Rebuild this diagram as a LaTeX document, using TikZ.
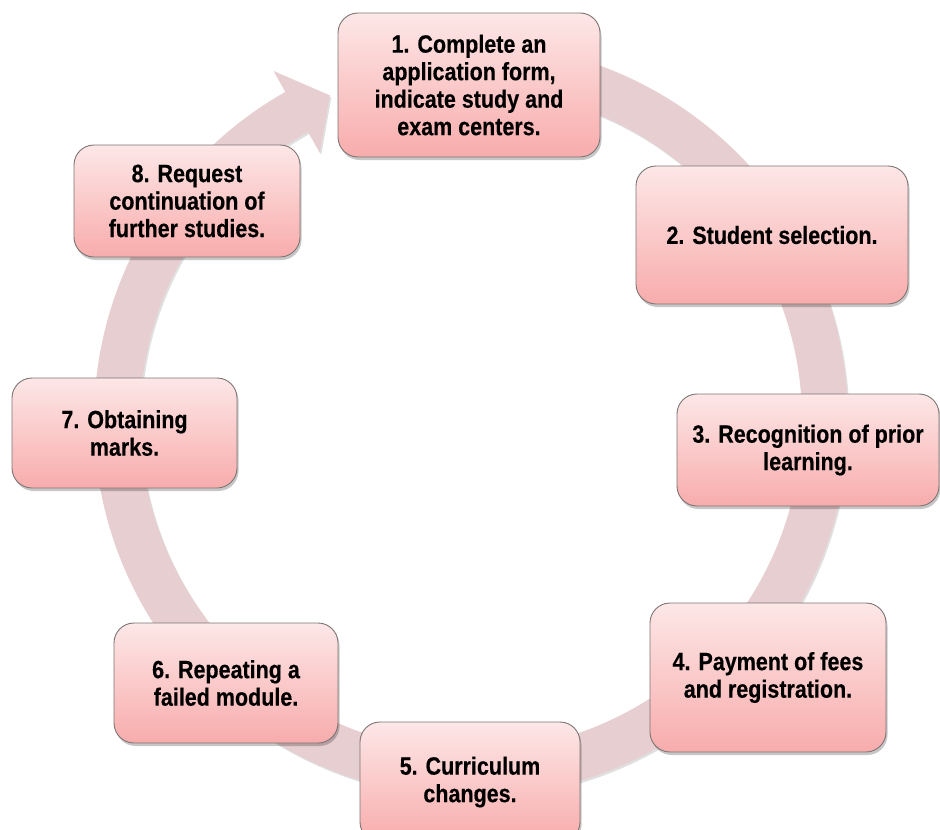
\documentclass[tikz,border=0pt]{standalone}
\usepackage{fontspec}
\setmainfont{Liberation Sans}[FakeStretch=0.86,BoldFeatures={FakeBold=0.35}]
\usetikzlibrary{calc,shadows}
\definecolor{ringc}{RGB}{231,206,208}
\definecolor{boxtop}{RGB}{253,231,231}
\definecolor{boxbot}{RGB}{248,172,172}
\definecolor{boxline}{RGB}{125,115,115}
\begin{document}
\begin{tikzpicture}[x=1pt,y=-1pt,
  stepbox/.style={rectangle, rounded corners=20pt, draw=boxline, line width=0.9pt,
    top color=boxtop, bottom color=boxbot, align=center, inner sep=0pt,
    font=\bfseries\fontsize{25}{27.5}\selectfont, text=black,
    drop shadow={shadow xshift=1.5pt,shadow yshift=-3pt,opacity=0.22,fill=black}},
  ringshape/.style={fill=ringc,
    drop shadow={shadow xshift=1.5pt,shadow yshift=-2pt,opacity=0.12,fill=black}}
]
\useasboundingbox (0,0) rectangle (940,830);
\coordinate (c) at (471,420);
% cycle arrow
\path[ringshape] ($(c)+(-95:377)$) arc[start angle=-95,end angle=240.5,radius=377]
  -- ($(c)+(240.5:401)$) -- ($(c)+(246.5:354)$) -- ($(c)+(240.5:307)$)
  -- ($(c)+(240.5:331)$) arc[start angle=240.5,end angle=-95,radius=331] -- cycle;
% steps
\node[stepbox, minimum width=262pt, minimum height=144pt] (n1) at (469,85)
  {1. Complete an\\application form,\\indicate study and\\exam centers.};
\node[stepbox, minimum width=272pt, minimum height=138pt] (n2) at (772,235)
  {2. Student selection.};
\node[stepbox, minimum width=262pt, minimum height=112pt] (n3) at (808,450)
  {3. Recognition of prior\\learning.};
\node[stepbox, minimum width=236pt, minimum height=149pt] (n4) at (768,677.5)
  {4. Payment of fees\\and registration.};
\node[stepbox, minimum width=220pt, minimum height=120pt] (n5) at (470,782)
  {5. Curriculum\\changes.};
\node[stepbox, minimum width=224pt, minimum height=120pt] (n6) at (226,683)
  {6. Repeating a\\failed module.};
\node[stepbox, minimum width=225pt, minimum height=110pt] (n7) at (124.5,433)
  {7. Obtaining\\marks.};
\node[stepbox, minimum width=226pt, minimum height=112pt] (n8) at (187,201)
  {8. Request\\continuation of\\further studies.};
\end{tikzpicture}
\end{document}
